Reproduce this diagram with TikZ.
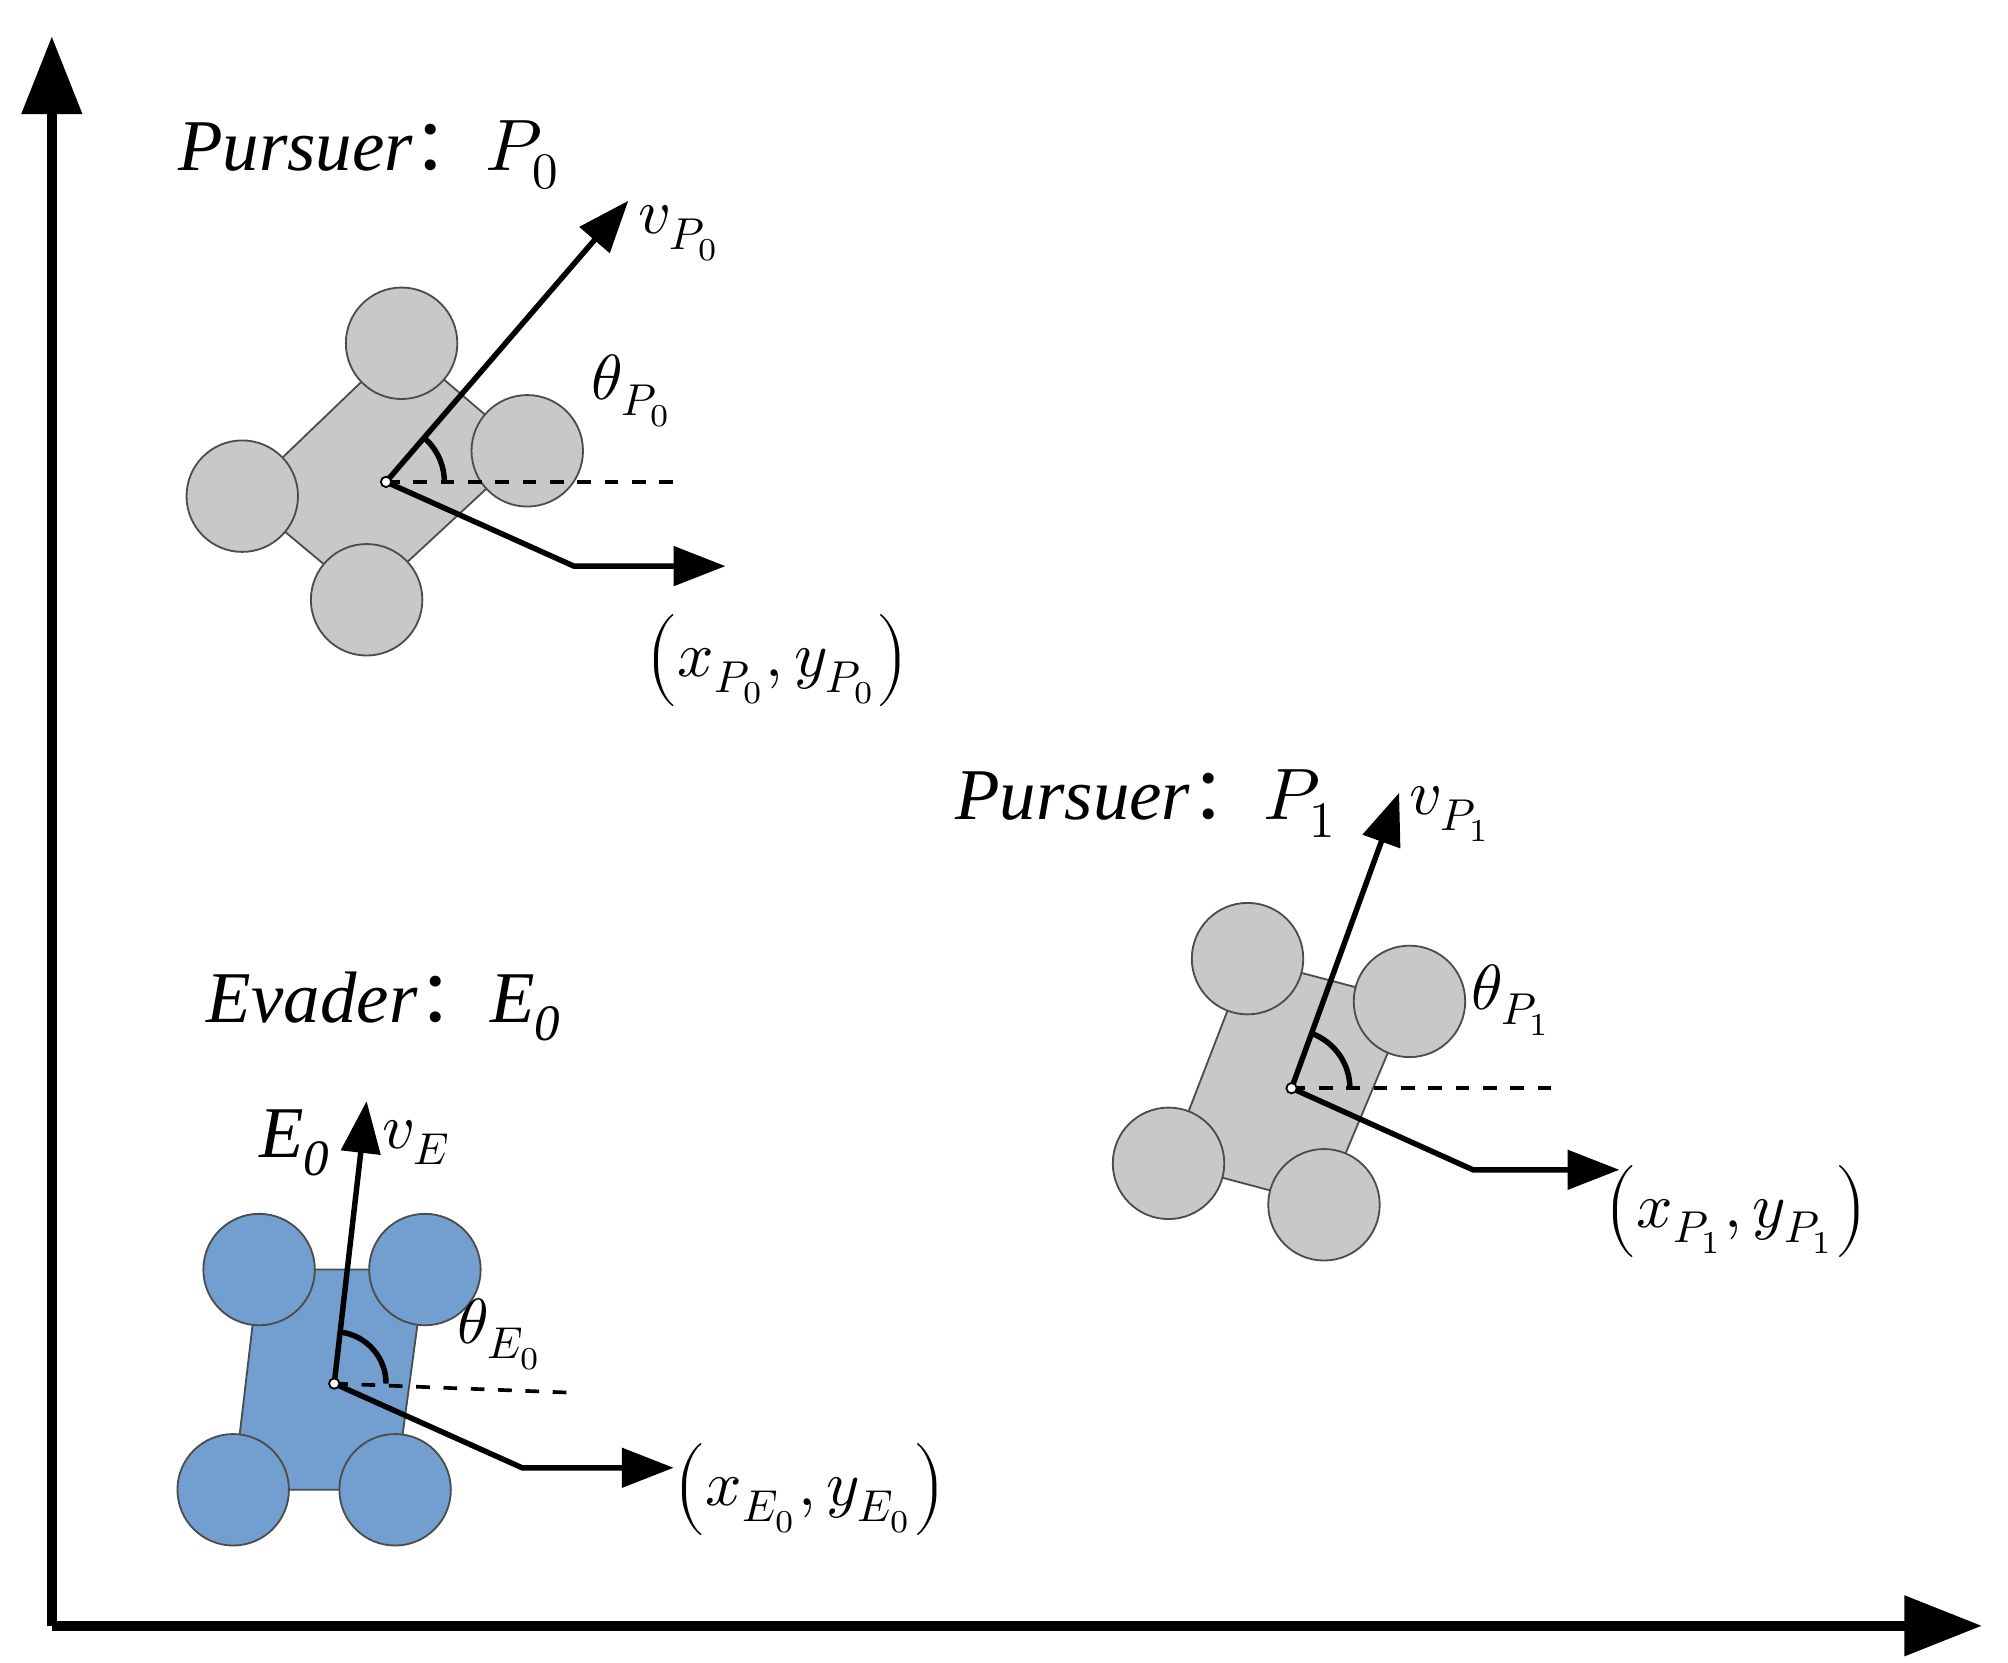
\documentclass[tikz,border=0pt]{standalone}
\usepackage{amsmath}
\usepackage{fontspec}
\setmainfont{Liberation Serif}
\newfontfamily\cjk{Noto Sans CJK SC}
\usepackage{unicode-math}
\setmathfont{Latin Modern Math}
\usetikzlibrary{positioning}
\usetikzlibrary{arrows.meta}
\usetikzlibrary{calc}
\definecolor{wheelgray}{RGB}{200,200,200}
\definecolor{evblue}{RGB}{114,159,207}
\newcommand{\fcolon}{{\cjk\upshape ：}}

\begin{document}
\begin{tikzpicture}[
            x = 0.01cm, y = -0.01cm,
            > = {Triangle[length=0.4cm,width=0.3cm]}, % arrow head style
            font = \fontsize{16}{19}\selectfont\itshape,
            semithick % line style
        ]

        \tikzset{
            axis/.style = {line width=2.2pt, -{Triangle[length=0.6cm,width=0.45cm]}},
            wheel/.style = {circle, draw = black!70, thin, minimum size = 0.86cm, inner sep = 0pt},
            body/.style = {draw = black!70, thin},
            vel/.style = {line width=1.2pt, ->},
            ref/.style = {dashed, thick},
            lbl/.style = {inner sep = 1pt},
            mlbl/.style = {inner sep = 1pt, font = \fontsize{14}{17}\selectfont}
        }

        \useasboundingbox (0,0) rectangle (1550,1283);

        % axes
        \coordinate (O) at (40,1255);
        \coordinate (Ytop) at (40,28);
        \coordinate (Xend) at (1530,1255);
        \draw[axis] (O) -- (Ytop);
        \draw[axis] (O) -- (Xend);

        % pursuer P0
        \coordinate (P0) at (298,372);
        \fill[wheelgray, body] (310,265) -- (407,348) -- (283,463) -- (187,383) -- cycle;
        \node[wheel, fill = wheelgray] (P0a) at (310,265) {};
        \node[wheel, fill = wheelgray] (P0b) at (407,348) {};
        \node[wheel, fill = wheelgray] (P0c) at (187,383) {};
        \node[wheel, fill = wheelgray] (P0d) at (283,463) {};
        \coordinate (P0v) at (485,155);
        \coordinate (P0h) at (525,372);
        \coordinate (P0k) at (443,437);
        \coordinate (P0x) at (560,437);
        \draw[ref] (P0) -- (P0h);
        \draw[vel] (P0) -- (P0v);
        \draw[line width=1.2pt] ($(P0)+(45,0)$) arc[start angle=0, end angle=-49, radius=45];
        \draw[vel] (P0) -- (P0k) -- (P0x);
        \draw[fill=white, thin] (P0) circle (4);
        \node[lbl] (P0name) at (285,120) {Pursuer\fcolon$P_0$};
        \node[mlbl] (P0vl) at (525,180) {$v_{P_0}$};
        \node[mlbl] (P0tl) at (488,302) {$\theta_{P_0}$};
        \node[mlbl] (P0xl) at (600,510) {$\left(x_{P_0},y_{P_0}\right)$};

        % pursuer P1
        \coordinate (P1) at (997,840);
        \fill[wheelgray, body] (963,740) -- (1088,773) -- (1022,930) -- (902,898) -- cycle;
        \node[wheel, fill = wheelgray] (P1a) at (963,740) {};
        \node[wheel, fill = wheelgray] (P1b) at (1088,773) {};
        \node[wheel, fill = wheelgray] (P1c) at (902,898) {};
        \node[wheel, fill = wheelgray] (P1d) at (1022,930) {};
        \coordinate (P1v) at (1080,612);
        \coordinate (P1h) at (1200,840);
        \coordinate (P1k) at (1137,903);
        \coordinate (P1x) at (1250,903);
        \draw[ref] (P1) -- (P1h);
        \draw[vel] (P1) -- (P1v);
        \draw[line width=1.2pt] ($(P1)+(45,0)$) arc[start angle=0, end angle=-70, radius=45];
        \draw[vel] (P1) -- (P1k) -- (P1x);
        \draw[fill=white, thin] (P1) circle (4);
        \node[lbl] (P1name) at (885,620) {Pursuer\fcolon$P_1$};
        \node[mlbl] (P1vl) at (1120,628) {$v_{P_1}$};
        \node[mlbl] (P1tl) at (1167,772) {$\theta_{P_1}$};
        \node[mlbl] (P1xl) at (1340,935) {$\left(x_{P_1},y_{P_1}\right)$};

        % evader E0
        \coordinate (E0) at (258,1068);
        \fill[evblue, body] (200,980) -- (328,980) -- (305,1150) -- (180,1150) -- cycle;
        \node[wheel, fill = evblue] (E0a) at (200,980) {};
        \node[wheel, fill = evblue] (E0b) at (328,980) {};
        \node[wheel, fill = evblue] (E0c) at (180,1150) {};
        \node[wheel, fill = evblue] (E0d) at (305,1150) {};
        \coordinate (E0v) at (283,850);
        \coordinate (E0h) at (440,1075);
        \coordinate (E0k) at (403,1133);
        \coordinate (E0x) at (520,1133);
        \draw[ref] (E0) -- (E0h);
        \draw[vel] (E0) -- (E0v);
        \draw[line width=1.2pt] ($(E0)+(40,0)$) arc[start angle=0, end angle=-82, radius=40];
        \draw[vel] (E0) -- (E0k) -- (E0x);
        \draw[fill=white, thin] (E0) circle (4);
        \node[lbl] (E0name) at (297,777) {Evader\fcolon E\textsubscript{0}};
        \node[lbl] (E0tag) at (228,882) {E\textsubscript{0}};
        \node[mlbl] (E0vl) at (322,882) {$v_E$};
        \node[mlbl] (E0tl) at (386,1030) {$\theta_{E_0}$};
        \node[mlbl] (E0xl) at (625,1150) {$\left(x_{E_0},y_{E_0}\right)$};

  \end{tikzpicture}
\end{document}
